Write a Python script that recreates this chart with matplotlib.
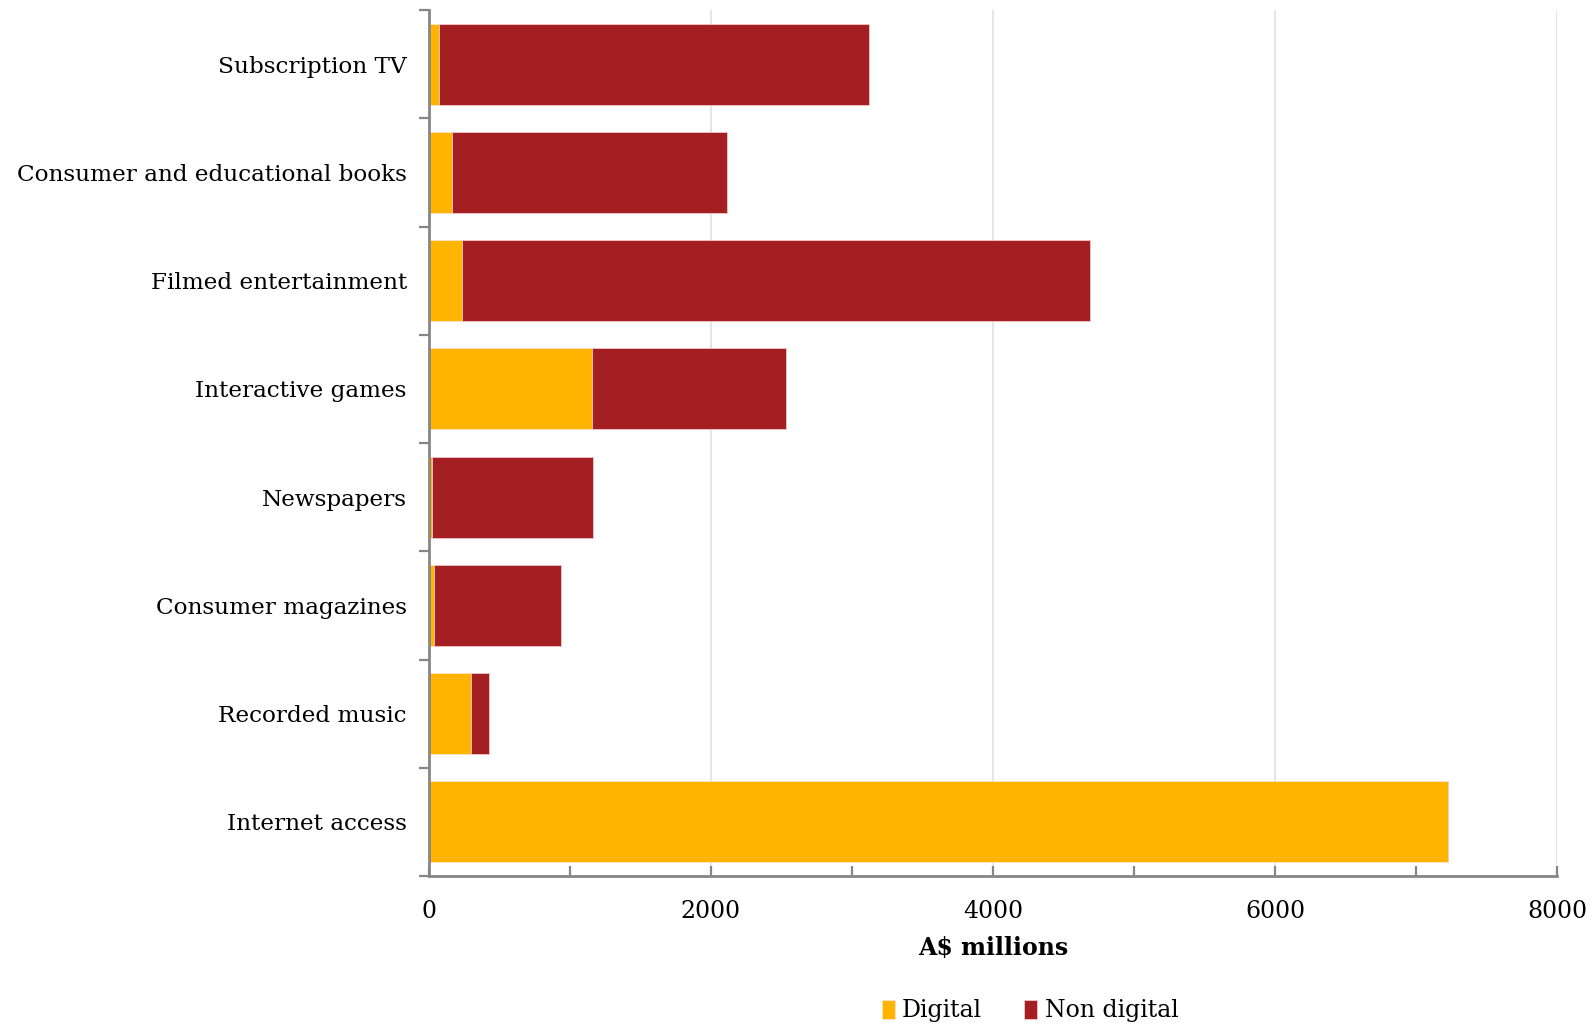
import matplotlib
matplotlib.use("Agg")
import matplotlib.pyplot as plt
from matplotlib.ticker import MultipleLocator, FixedLocator

categories = ["Subscription TV", "Consumer and educational books", "Filmed entertainment",
              "Interactive games", "Newspapers", "Consumer magazines", "Recorded music",
              "Internet access"]
digital = [71, 161, 237, 1153, 21, 38, 296, 7227]
non_digital = [3051, 1953, 4449, 1380, 1141, 895, 130, 0]
x_ticks = [0, 2000, 4000, 6000, 8000]

C_DIG = "#FFB400"
C_NON = "#A31F21"
SPINE = "#868686"

plt.rcParams['font.family'] = ['DejaVu Serif']

fig = plt.figure(figsize=(15.96, 10.26), dpi=100)
ax = fig.add_axes([429/1596, 1 - 876/1026, (1557-429)/1596, (876-10)/1026])

y = list(range(len(categories)))
ax.barh(y, digital, height=0.75, color=C_DIG, edgecolor="#fbe3c8", linewidth=0.6, label="Digital")
ax.barh(y, non_digital, left=digital, height=0.75, color=C_NON, edgecolor="#f0c8c8", linewidth=0.6,
        label="Non digital")

ax.set_ylim(len(categories) - 0.5, -0.5)
ax.set_xlim(0, 8000)

ax.set_yticks(y)
ax.set_yticklabels(categories, fontsize=16.7)
ax.yaxis.set_minor_locator(FixedLocator([i - 0.5 for i in range(len(categories) + 1)]))
ax.tick_params(axis='y', which='major', length=0, pad=16)
ax.tick_params(axis='y', which='minor', length=7, width=1.6, color=SPINE, direction='out')

ax.set_xticks(x_ticks)
ax.set_xticklabels([str(v) for v in x_ticks], fontsize=17)
ax.xaxis.set_minor_locator(MultipleLocator(1000))
ax.tick_params(axis='x', which='both', length=7, width=1.6, color=SPINE, direction='in', pad=17)

ax.grid(axis='x', which='major', color="#e0e0e0", linewidth=1.2)
ax.set_axisbelow(True)

for s in ['top', 'right']:
    ax.spines[s].set_visible(False)
for s in ['left', 'bottom']:
    ax.spines[s].set_color(SPINE)
    ax.spines[s].set_linewidth(2)

ax.set_xlabel("A$ millions", fontsize=17, fontweight='bold', labelpad=10)

fig.legend(loc='center', bbox_to_anchor=(1030/1596, 1 - 1011/1026), ncol=2, frameon=False,
           fontsize=17, handlelength=0.55, handleheight=0.85, handletextpad=0.3, columnspacing=1.8)

fig.savefig("out.png", dpi=100)
